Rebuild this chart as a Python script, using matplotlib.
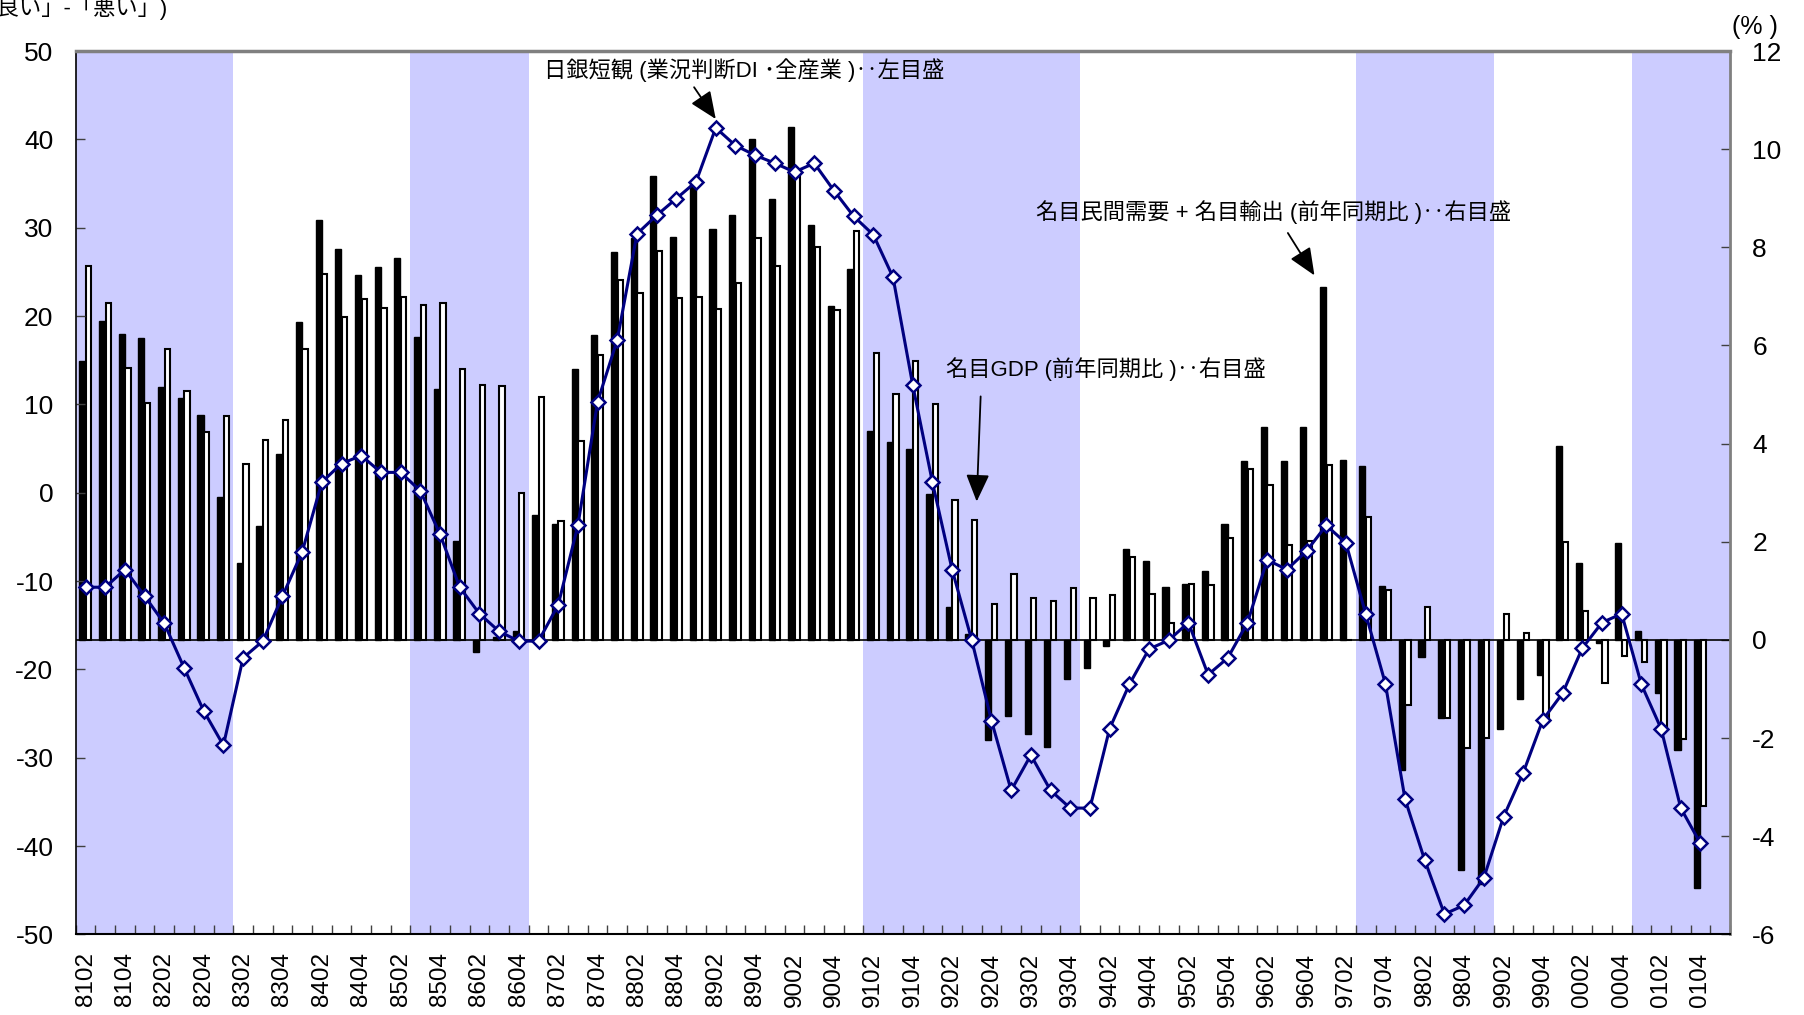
import matplotlib
matplotlib.use("Agg")
import matplotlib.pyplot as plt
import numpy as np

plt.rcParams['font.family'] = ['Liberation Sans', 'Noto Sans CJK JP', 'DejaVu Sans']
plt.rcParams['axes.unicode_minus'] = False

# quarters (YYQQ), last slot is empty
quarters = [
  "8102", "8103", "8104", "8201", "8202", "8203", "8204", "8301", "8302", "8303",
  "8304", "8401", "8402", "8403", "8404", "8501", "8502", "8503", "8504", "8601",
  "8602", "8603", "8604", "8701", "8702", "8703", "8704", "8801", "8802", "8803",
  "8804", "8901", "8902", "8903", "8904", "9001", "9002", "9003", "9004", "9101",
  "9102", "9103", "9104", "9201", "9202", "9203", "9204", "9301", "9302", "9303",
  "9304", "9401", "9402", "9403", "9404", "9501", "9502", "9503", "9504", "9601",
  "9602", "9603", "9604", "9701", "9702", "9703", "9704", "9801", "9802", "9803",
  "9804", "9901", "9902", "9903", "9904", "0001", "0002", "0003", "0004", "0101",
  "0102", "0103", "0104", "0201",
]

# 日銀短観 業況判断DI (left axis)
tankan_di = [
  -10.7, -10.7, -8.7, -11.7, -14.8, -19.8, -24.7, -28.6, -18.7, -16.8,
  -11.7, -6.7, 1.2, 3.3, 4.2, 2.3, 2.3, 0.2, -4.7, -10.7,
  -13.7, -15.7, -16.8, -16.8, -12.7, -3.7, 10.3, 17.3, 29.3, 31.4,
  33.3, 35.2, 41.3, 39.3, 38.2, 37.3, 36.3, 37.3, 34.2, 31.3,
  29.2, 24.4, 12.2, 1.2, -8.7, -16.7, -25.8, -33.7, -29.7, -33.7,
  -35.7, -35.7, -26.7, -21.7, -17.7, -16.7, -14.7, -20.6, -18.7, -14.7,
  -7.6, -8.7, -6.6, -3.7, -5.7, -13.7, -21.6, -34.7, -41.6, -47.7,
  -46.7, -43.6, -36.7, -31.7, -25.7, -22.7, -17.6, -14.7, -13.7, -21.7,
  -26.7, -35.7, -39.7,
]

# 名目民間需要 + 名目輸出 前年同期比 (right axis, black bars)
demand_exports = [
  5.68, 6.49, 6.24, 6.16, 5.15, 4.93, 4.59, 2.91, 1.56, 2.33,
  3.78, 6.47, 8.55, 7.96, 7.43, 7.59, 7.78, 6.18, 5.12, 2.01,
  -0.24, 0.06, 0.18, 2.55, 2.36, 5.53, 6.22, 7.91, 8.18, 9.46,
  8.22, 9.29, 8.38, 8.65, 10.2, 8.99, 10.46, 8.46, 6.81, 7.55,
  4.25, 4.04, 3.89, 2.98, 0.67, 0.12, -2.04, -1.54, -1.92, -2.18,
  -0.8, -0.58, -0.12, 1.86, 1.61, 1.07, 1.15, 1.4, 2.36, 3.65,
  4.33, 3.65, 4.34, 7.19, 3.66, 3.55, 1.09, -2.65, -0.34, -1.6,
  -4.68, -4.98, -1.82, -1.2, -0.71, 3.96, 1.56, -0.06, 1.98, 0.18,
  -1.08, -2.24, -5.06,
]

# 名目GDP 前年同期比 (right axis, white bars)
nominal_gdp = [
  7.62, 6.87, 5.54, 4.82, 5.93, 5.07, 4.24, 4.56, 3.59, 4.07,
  4.48, 5.93, 7.45, 6.59, 6.94, 6.76, 6.98, 6.82, 6.86, 5.53,
  5.2, 5.18, 2.99, 4.94, 2.42, 4.05, 5.81, 7.34, 7.06, 7.92,
  6.96, 6.98, 6.75, 7.27, 8.19, 7.61, 9.47, 8.01, 6.72, 8.34,
  5.85, 5.01, 5.68, 4.81, 2.85, 2.44, 0.73, 1.35, 0.86, 0.8,
  1.05, 0.85, 0.92, 1.69, 0.93, 0.35, 1.14, 1.11, 2.08, 3.49,
  3.16, 1.93, 2.01, 3.56, 0.0, 2.5, 1.02, -1.32, 0.67, -1.6,
  -2.2, -2.0, 0.53, 0.15, -1.59, 2.0, 0.59, -0.88, -0.33, -0.44,
  -1.82, -2.02, -3.38,
]

# recession shading (first and last shaded quarter)
shade_start = ["8102", "8503", "9102", "9703", "0101"]
shade_end = ["8301", "8604", "9304", "9901", "0201"]

left_ticks = [-50, -40, -30, -20, -10, 0, 10, 20, 30, 40, 50]
right_ticks = [-6, -4, -2, 0, 2, 4, 6, 8, 10, 12]

navy = "#000080"
shade = "#CCCCFF"
gray = "#808080"

fig = plt.figure(figsize=(18.04, 10.15), dpi=100)
ax1 = fig.add_axes([0.04196, 0.0794, 0.91702, 0.87035])
ax2 = ax1.twinx()
ax1.set_zorder(2)
ax2.set_zorder(1)
ax1.patch.set_visible(False)

n = len(quarters)
x = np.arange(len(tankan_di))

# shaded periods
for s, e in zip(shade_start, shade_end):
  i0 = quarters.index(s)
  i1 = quarters.index(e)
  ax2.axvspan(i0 - 0.5, i1 + 0.5, color=shade, lw=0, zorder=0)

# bars on right axis
ax2.bar(x - 0.165, demand_exports, width=0.31, color="black", edgecolor="black",
        lw=1.0, zorder=2)
ax2.bar(x + 0.15, nominal_gdp, width=0.27, color="white", edgecolor="black",
        lw=1.5, zorder=2)
ax2.axhline(0, color="black", lw=1.2, zorder=3)

# line on left axis
ax1.plot(x, tankan_di, color=navy, lw=2.2, marker="D", ms=6.8, mfc="white",
         mec=navy, mew=1.8, zorder=5)

ax1.set_xlim(-0.5, n - 0.5)
ax1.set_ylim(-50, 50)
ax2.set_ylim(-6, 12)
ax1.set_yticks(left_ticks)
ax2.set_yticks(right_ticks)

ax1.set_xticks(np.arange(-0.5, n, 1.0))
ax1.set_xticklabels([])
ax1.set_xticks(np.arange(0, n, 2), minor=True)
ax1.set_xticklabels(quarters[0:n:2], minor=True, rotation=90)
ax1.tick_params(axis="x", which="major", direction="in", length=6.5, width=1,
                color="#404040")
ax1.tick_params(axis="x", which="minor", length=0, pad=13, labelsize=17.5)
ax1.tick_params(axis="y", direction="in", length=6.5, width=1, pad=16,
                labelsize=19, color="#404040")
ax2.tick_params(axis="y", direction="in", length=6.5, width=1, pad=16,
                labelsize=19, color="#404040")

for sp in ax2.spines.values():
  sp.set_visible(False)
ax1.spines["left"].set_color("black")
ax1.spines["left"].set_linewidth(1.2)
ax1.spines["bottom"].set_color("black")
ax1.spines["bottom"].set_linewidth(1.5)
ax1.spines["top"].set_color(gray)
ax1.spines["top"].set_linewidth(2.5)
ax1.spines["right"].set_color(gray)
ax1.spines["right"].set_linewidth(2.0)

# annotations
arrow = dict(arrowstyle="-|>,head_length=0.7,head_width=0.3", color="black",
             lw=1.3, mutation_scale=24, shrinkA=0, shrinkB=0)
ax1.text(23.3, 47.8, "日銀短観 (業況判断DI ･全産業 )‥左目盛", fontsize=16,
         ha="left", va="center", zorder=6)
ax1.annotate("", xy=(32.0, 42.3), xytext=(30.9, 45.9), arrowprops=arrow, zorder=6)

ax1.text(48.25, 31.8, "名目民間需要 + 名目輸出 (前年同期比 )‥右目盛", fontsize=16,
         ha="left", va="center", zorder=6)
ax1.annotate("", xy=(62.4, 24.6), xytext=(61.05, 29.4), arrowprops=arrow, zorder=6)

ax1.text(43.7, 14.0, "名目GDP (前年同期比 )‥右目盛", fontsize=16,
         ha="left", va="center", zorder=6)
ax1.annotate("", xy=(45.25, -1.0), xytext=(45.45, 10.9), arrowprops=arrow, zorder=6)

# axis unit labels
fig.text(168 / 1804, 1 - 8 / 1015, "(「良い」-「悪い」)", fontsize=16,
         ha="right", va="center")
fig.text(1732 / 1804, 1 - 27 / 1015, "(% )", fontsize=18, ha="left", va="center")

fig.savefig("out.png", dpi=100)
